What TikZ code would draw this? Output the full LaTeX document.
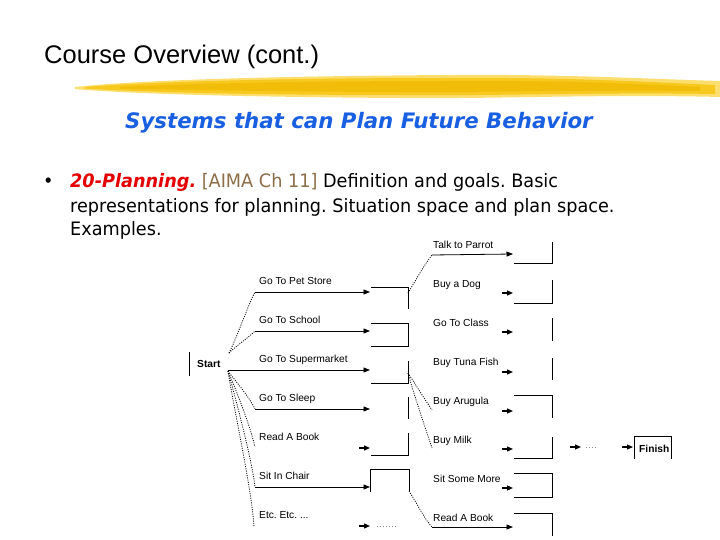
\documentclass[tikz,border=0pt]{standalone}
\usepackage{fontspec}
\setmainfont{Liberation Sans}
\newfontfamily\bodyfont[FakeStretch=0.955]{DejaVu Sans}
\newfontfamily\subfont{DejaVu Sans}
\usetikzlibrary{arrows.meta}
\definecolor{subblue}{RGB}{25,95,225}
\definecolor{planred}{RGB}{228,0,0}
\definecolor{aimabrown}{RGB}{140,110,72}
\definecolor{hlA}{RGB}{252,222,110}
\definecolor{hlB}{RGB}{247,200,30}
\definecolor{hlC}{RGB}{240,185,0}
\frenchspacing
\begin{document}
\frenchspacing
\begin{tikzpicture}[x=1pt,y=-1pt,
  lbl/.style={font=\fontsize{10.2}{12}\selectfont, anchor=base west, inner sep=0pt},
  blbl/.style={font=\fontsize{10.2}{12}\selectfont\bfseries, anchor=base west, inner sep=0pt},
  txt/.style={font=\bodyfont\fontsize{18.5}{22}\selectfont, anchor=base west, inner sep=0pt},
  wire/.style={line width=0.8pt},
  flow/.style={line width=0.8pt, -{Triangle[length=6.5pt,width=5pt]}},
  stub/.style={line width=1.3pt, -{Triangle[length=6pt,width=5pt]}},
  dots/.style={line width=0.8pt, dash pattern=on 1pt off 1.3pt},
  ghost/.style={line width=0.8pt, black!45, dash pattern=on 1pt off 2pt}]
\useasboundingbox (0,0) rectangle (720,540);
\fill[white] (0,0) rectangle (720,540);

% title
\node[anchor=base west, inner sep=0pt, font=\fontsize{25.5}{30}\selectfont] (title) at (44,64) {Course Overview (cont.)};

% yellow brush stroke
\fill[hlA] (75,87) .. controls (150,79) and (300,76) .. (450,75) .. controls (560,74) and (650,79) .. (720,81) -- (720,97) .. controls (600,94) and (500,99) .. (400,98) .. controls (250,97) and (130,94) .. (75,89) -- cycle;
\fill[hlB] (85,87) .. controls (160,81) and (300,78) .. (450,78) .. controls (560,77) and (650,82) .. (715,85) -- (715,94) .. controls (600,92) and (500,96) .. (400,95) .. controls (250,95) and (140,92) .. (85,88.5) -- cycle;
\fill[hlC, opacity=0.7] (120,87) .. controls (200,83) and (320,81) .. (450,81) .. controls (560,80) and (640,84) .. (700,87) -- (700,91) .. controls (600,90) and (500,92) .. (420,92) .. controls (300,92) and (180,90) .. (120,88.5) -- cycle;

% subtitle
\node[anchor=base west, inner sep=0pt, font=\subfont\bfseries\itshape\fontsize{21.3}{25}\selectfont, text=subblue] (sub) at (125,129) {Systems that can Plan Future Behavior};

% bullet text
\node[txt] (bul) at (43,188) {•};
\node[txt] (l1) at (70,188) {\textcolor{planred}{\bfseries\itshape 20-Planning.} \textcolor{aimabrown}{[AIMA Ch 11]} Definition and goals. Basic};
\node[txt] (l2) at (70,212) {representations for planning. Situation space and plan space.};
\node[txt] (l3) at (70,236) {Examples.};

% start
\node[blbl] (start) at (197,367) {Start};
\draw[wire] (189,352) -- (189,376);
\coordinate (sN) at (229,353);
\coordinate (sS) at (228,371);

% column 1 labels
\node[lbl] (c1a) at (259,284) {Go To Pet Store};
\node[lbl] (c1b) at (259,323) {Go To School};
\node[lbl] (c1c) at (259,362) {Go To Supermarket};
\node[lbl] (c1d) at (259,401) {Go To Sleep};
\node[lbl] (c1e) at (259,440) {Read A Book};
\node[lbl] (c1f) at (259,479) {Sit In Chair};
\node[lbl] (c1g) at (259,518) {Etc. Etc. ...};

% column 1 line ends
\coordinate (a1) at (255,292); \coordinate (e1) at (370,292);
\coordinate (a2) at (255,331); \coordinate (e2) at (370,331);
\coordinate (a3) at (228,370); \coordinate (e3) at (370,370);
\coordinate (a4) at (255,409); \coordinate (e4) at (370,409);
\coordinate (a5) at (255,447); \coordinate (f5) at (359,448); \coordinate (e5) at (370,448);
\coordinate (a6) at (255,487); \coordinate (e6) at (370,487);
\coordinate (a7) at (254,527); \coordinate (f7) at (359,526); \coordinate (e7) at (370,526);

\draw[flow] (a1) -- (e1);
\draw[flow] (a2) -- (e2);
\draw[flow] (a3) -- (e3);
\draw[flow] (a4) -- (e4);
\draw[stub] (f5) -- (e5);
\draw[flow] (a6) -- (e6);
\draw[stub] (f7) -- (e7);
\coordinate (g7a) at (377,526); \coordinate (g7b) at (398,526);
\draw[ghost] (g7a) -- (g7b);

% dotted links from start
\draw[dots] (sN) .. controls (238,335) and (248,305) .. (a1);
\draw[dots] (sN) .. controls (236,346) and (248,338) .. (a2);
\draw[dots] (sS) .. controls (236,382) and (248,395) .. (a4);
\draw[dots] (sS) .. controls (236,390) and (250,425) .. (a5);
\draw[dots] (sS) .. controls (236,400) and (252,460) .. (a6);
\draw[dots] (sS) .. controls (234,410) and (252,490) .. (a7);

% column 1 result brackets
\draw[wire] (371,287) -- (408,287) -- (408,309);
\draw[wire] (371,323) -- (408,323) -- (408,346) -- (371,346);
\draw[wire] (408,361) -- (408,383) -- (371,383);
\draw[wire] (408,397) -- (408,419);
\draw[wire] (408,433) -- (408,455) -- (371,455);
\draw[wire] (370,492) -- (370,469) -- (409,469) -- (409,491);
\coordinate (b1) at (408,293);
\coordinate (b3) at (408,373);
\coordinate (b6) at (409,491);

% column 2 labels
\node[lbl] (c2a) at (433,248) {Talk to Parrot};
\node[lbl] (c2b) at (433,287) {Buy a Dog};
\node[lbl] (c2c) at (433,326) {Go To Class};
\node[lbl] (c2d) at (433,365) {Buy Tuna Fish};
\node[lbl] (c2e) at (433,404) {Buy Arugula};
\node[lbl] (c2f) at (433,443) {Buy Milk};
\node[lbl] (c2g) at (433,482) {Sit Some More};
\node[lbl] (c2h) at (433,521) {Read A Book};

\coordinate (p1) at (432,255); \coordinate (q1) at (513,254);
\coordinate (p2) at (502,293); \coordinate (q2) at (513,293);
\coordinate (p3) at (502,332); \coordinate (q3) at (513,332);
\coordinate (p4) at (502,372); \coordinate (q4) at (513,372);
\coordinate (d5) at (432,410); \coordinate (p5) at (502,411); \coordinate (q5) at (513,411);
\coordinate (d6) at (432,448); \coordinate (p6) at (502,449); \coordinate (q6) at (513,449);
\coordinate (p7) at (502,488); \coordinate (q7) at (513,488);
\coordinate (p8) at (432,527); \coordinate (q8) at (513,527);

\draw[flow] (p1) -- (q1);
\draw[stub] (p2) -- (q2);
\draw[stub] (p3) -- (q3);
\draw[stub] (p4) -- (q4);
\draw[stub] (p5) -- (q5);
\draw[stub] (p6) -- (q6);
\draw[stub] (p7) -- (q7);
\draw[flow] (p8) -- (q8);

\draw[dots] (b1) .. controls (416,280) and (424,265) .. (p1);
\draw[dots] (b3) .. controls (416,385) and (425,400) .. (d5);
\draw[dots] (b3) .. controls (414,395) and (426,430) .. (d6);
\draw[dots] (b6) .. controls (418,505) and (425,520) .. (p8);

% column 2 result brackets
\draw[wire] (552,242) -- (552,263) -- (514,263);
\draw[wire] (552,280) -- (552,303) -- (514,303);
\draw[wire] (552,318) -- (552,341);
\draw[wire] (552,358) -- (552,380);
\draw[wire] (514,395) -- (552,395) -- (552,418);
\draw[wire] (552,437) -- (552,458) -- (514,458);
\draw[wire] (514,473) -- (552,473) -- (552,497) -- (514,497);
\draw[wire] (514,513) -- (552,513) -- (552,536);

% finish
\coordinate (u1) at (570,447); \coordinate (v1) at (581,447);
\coordinate (g1) at (586,447); \coordinate (g2) at (598,447);
\coordinate (u2) at (622,447); \coordinate (v2) at (633,447);
\draw[stub] (u1) -- (v1);
\draw[ghost] (g1) -- (g2);
\draw[stub] (u2) -- (v2);
\draw[wire] (634,459) -- (634,436) -- (671,436) -- (671,459);
\node[blbl] (finish) at (639,452) {Finish};
\end{tikzpicture}
\end{document}
